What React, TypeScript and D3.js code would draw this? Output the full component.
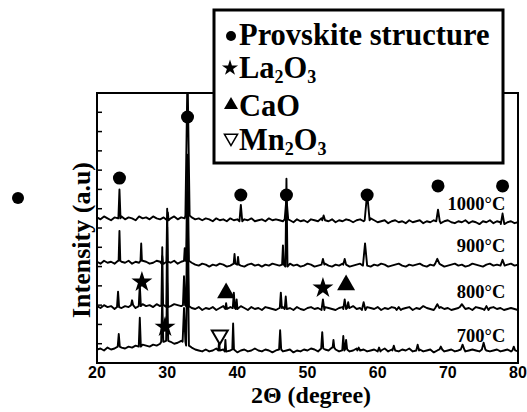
import React from "react";
import * as d3 from "d3";

const W = 527;
const H = 412;
const FRAME = { left: 97, right: 518, top: 93, bottom: 363 };

// axis
const xDomain: [number, number] = [20, 80];
const yDomain: [number, number] = [0, 280];
const xTickValues = [20, 30, 40, 50, 60, 70, 80];

// series
const temps = ["1000°C", "900°C", "800°C", "700°C"];
const offsets = [148, 104, 57, 14];
const labelLevels = [158.7, 115.1, 67.4, 21.8];
const labelPos = 78.2;

// baseline noise, sampled every 0.5° from 20° to 80°
const noise1000 = [
  3, 1, 4, 2, 0, 3, 2, 4, 1, 3, 2, 0, 4, 2, 3, 1, 4, 2, 1, 3, 0, 2, 4, 1, 3, 2,
  5, 3, 1, 2, 0, 2, 1, -1, 2, 0, 1, -1, 2, 0, 1, -1, 1, 0, 2, -1, 0, 1, -1, 2, 0, 1,
  0, -1, 1, 0, -2, 1, -1, 0, -2, 1, 0, -1, 2, 0, -1, 1, -2, 0, -1, 1, 0, -2, 0, 1, -1, 0,
  2, 0, -2, -1, 0, -3, -1, 0, -2, -1, -3, 0, -2, -1, 0, -3, -1, -2, 0, -1, -3, -1, 0, -2, -3, -1,
  -2, 0, -3, -1, -2, -4, -1, -2, 0, -3, -1, -2, -4, -2, -1, -3, -2,
];
const noise900 = [
  1, -1, 2, 0, 1, -1, 2, 1, 0, 2, -1, 1, 0, 2, 1, -1, 0, 2, 1, -1, 1, 0, 2, -1, 1, 2,
  2, 0, -2, -3, -1, -2, -4, -2, -3, -1, -2, -4, -3, -1, -2, -3, -4, -2, -1, -3, -2, -4, -2, -3, -1, -2,
  -3, -2, -4, -1, -3, -2, -4, -3, -1, -2, -4, -3, -2, -1, -3, -4, -2, -3, -1, -2, -4, -3, -2, -1, -3, -2,
  -4, -2, -3, -1, -2, -4, -3, -2, -1, -3, -4, -2, -3, -2, -1, -3, -4, -2, -3, -1, -2, -4, -3, -2, -1, -3,
  -2, -4, -3, -1, -2, -3, -4, -2, -1, -3, -2, -4, -3, -2, -1, -3, -2,
];
const noise800 = [
  2, 0, 3, 1, 2, -1, 1, 0, 2, 1, 3, 0, 2, 4, 2, 3, 1, 4, 2, 3, 1, 2, 4, 3, 2, 3,
  2, 0, -1, 1, -2, 0, -1, 1, -2, 0, 2, -1, 1, 0, -1, 2, 0, -2, 1, -1, 0, -2, 1, 0, -1, -2,
  0, 1, -1, 0, -2, 1, -1, -2, 0, 1, -1, 0, -2, 1, 0, -1, -2, 0, 1, -1, 0, 2, -1, 0, -2, 1,
  0, -1, 1, -2, 0, -1, 1, 0, -2, -1, 0, 1, -2, 0, -1, 2, 0, -1, -2, 0, 1, -1, 0, -2, -1, 0,
  1, -1, 0, -2, 1, 0, -1, -2, 0, 1, -1, 0, -2, -1, 0, -1, -2,
];
const noise700 = [
  0, 1, -1, 2, 0, 1, 3, 2, 1, 3, 2, 4, 3, 5, 4, 3, 5, 4, 6, 8, 9, 8, 6, 7, 9, 8,
  4, 2, 0, -1, -2, 0, -2, -1, 1, -1, 0, -2, -1, 0, -3, -1, 0, -2, -1, 1, -1, -2, 0, -1, -3, -1,
  0, -2, -1, 0, -3, -1, -2, 0, -1, 1, 0, -2, 1, 0, -1, 2, 0, -2, -1, 0, -2, -1, 1, -1, 0, -2,
  -1, 0, -2, -1, 1, -2, 0, -1, -2, 0, -1, 1, -2, -1, 0, -2, -1, 0, -3, -1, 0, -2, -1, 0, -2, -1,
  0, -2, -1, 0, -1, -2, 0, -1, -2, -1, 0, -2, -1, 0, -2, -1, -2,
];

// peaks: [2θ, height, half width]
const peaks1000: [number, number, number][] = [
  [23.2, 30, 0.15], [30.1, 8, 0.1], [32.9, 150, 0.3], [40.5, 17, 0.2], [47.0, 22, 0.25],
  [52.3, 5, 0.2], [58.5, 28, 0.35], [68.6, 12, 0.25], [77.8, 11, 0.25],
];
const peaks900: [number, number, number][] = [
  [23.2, 31, 0.12], [26.3, 18, 0.1], [29.3, 8, 0.1], [30.0, 55, 0.1], [32.5, 13, 0.1],
  [32.9, 110, 0.2], [39.6, 10, 0.12], [40.1, 8, 0.12], [46.5, 20, 0.12], [47.0, 91, 0.15],
  [52.2, 6, 0.2], [55.3, 6, 0.2], [58.2, 23, 0.3], [68.5, 5, 0.3], [77.8, 6, 0.3],
];
const peaks800: [number, number, number][] = [
  [23.0, 16, 0.15], [25.0, 5, 0.15], [26.1, 22, 0.15], [29.3, 60, 0.12], [30.0, 83, 0.12],
  [32.4, 30, 0.15], [32.9, 118, 0.2], [38.4, 6, 0.12], [39.5, 16, 0.15], [39.9, 10, 0.12],
  [46.2, 16, 0.15], [46.9, 13, 0.15], [52.2, 11, 0.2], [55.3, 10, 0.2], [55.8, 6, 0.15],
  [58.0, 8, 0.25], [63.0, 3, 0.3], [68.5, 4, 0.3], [72.0, 3, 0.3], [75.5, 4, 0.3],
];
const peaks700: [number, number, number][] = [
  [23.1, 13, 0.15], [26.1, 30, 0.15], [29.3, 45, 0.15], [30.0, 60, 0.15], [32.4, 35, 0.2],
  [32.9, 120, 0.2], [37.4, 10, 0.1], [38.3, 12, 0.1], [39.4, 27, 0.12], [46.1, 20, 0.15],
  [52.1, 17, 0.15], [53.7, 8, 0.12], [55.1, 15, 0.15], [55.5, 10, 0.15], [57.3, 3, 0.2],
  [60.2, 4, 0.2], [62.3, 5, 0.2], [65.7, 6, 0.2], [69.0, 3, 0.2], [72.1, 5, 0.25],
  [75.1, 7, 0.25], [79.4, 4, 0.2],
];

const noises = [noise1000, noise900, noise800, noise700];
const peakSets = [peaks1000, peaks900, peaks800, peaks700];

// phase markers: [2θ, level]
const perovskiteMarks: [number, number][] = [
  [23.2, 191.8], [32.9, 255.1], [40.5, 174.2], [47.0, 174.2], [58.5, 174.2], [68.6, 183.6], [77.8, 183.6],
];
const la2o3Marks: [number, number][] = [[26.4, 84], [52.2, 77.8], [29.7, 37.3]];
const caoMarks: [number, number][] = [[38.4, 72.6], [55.5, 80.9]];
const mn2o3Marks: [number, number][] = [[37.5, 29.0]];

function buildTrace(noise: number[], peaks: [number, number, number][]) {
  const pts: [number, number][] = [];
  noise.forEach((v, i) => {
    const x = 20 + i * 0.5;
    if (!peaks.some(([p, , w]) => Math.abs(x - p) < w)) pts.push([x, v]);
  });
  peaks.forEach(([p, h, w]) => {
    const b = noise[Math.round((p - 20) * 2)];
    pts.push([p - w, b], [p, b + h], [p + w, b]);
  });
  pts.sort((a, b) => a[0] - b[0]);
  return pts;
}

const serifStyle = { fontFamily: "Liberation Serif, Times New Roman, serif", fontWeight: 700 } as const;
const sansStyle = { fontFamily: "Liberation Sans, Arial, sans-serif", fontWeight: 700 } as const;

export default function App() {
  const x = d3.scaleLinear().domain(xDomain).range([FRAME.left, FRAME.right]);
  const y = d3.scaleLinear().domain(yDomain).range([FRAME.bottom, FRAME.top]);
  const yTicks = y.ticks(14);

  const star = d3.symbol().type(d3.symbolStar);
  const tri = d3.symbol().type(d3.symbolTriangle);

  return (
    <svg width={W} height={H} style={{ position: "absolute", left: 0, top: 0, background: "#fff" }}>
      <defs>
        <clipPath id="plotClip">
          <rect x={FRAME.left} y={FRAME.top} width={FRAME.right - FRAME.left} height={FRAME.bottom - FRAME.top} />
        </clipPath>
      </defs>
      <rect width={W} height={H} fill="#fff" />

      {/* traces */}
      <g clipPath="url(#plotClip)">
        {noises.map((n, k) => {
          const pts = buildTrace(n, peakSets[k]);
          const line = d3
            .line<[number, number]>()
            .x((d) => x(d[0]))
            .y((d) => y(offsets[k] + d[1]));
          return <path key={k} d={line(pts) || ""} fill="none" stroke="#000" strokeWidth={1.9} strokeLinejoin="round" />;
        })}
      </g>

      {/* frame */}
      <rect
        x={FRAME.left}
        y={FRAME.top}
        width={FRAME.right - FRAME.left}
        height={FRAME.bottom - FRAME.top}
        fill="none"
        stroke="#000"
        strokeWidth={2}
      />
      {yTicks.map((t) => (
        <line key={t} x1={FRAME.left} x2={FRAME.left + 5} y1={y(t)} y2={y(t)} stroke="#000" strokeWidth={1.5} />
      ))}
      {xTickValues.map((t) => (
        <text key={t} x={x(t)} y={378} textAnchor="middle" style={{ ...sansStyle, fontSize: 16 }}>
          {t}
        </text>
      ))}

      {/* temperature labels */}
      {temps.map((t, k) => (
        <text key={t} x={x(labelPos)} y={y(labelLevels[k])} textAnchor="end" style={{ ...serifStyle, fontSize: 18.5 }}>
          {t}
        </text>
      ))}

      {/* markers */}
      {perovskiteMarks.map(([p, l], i) => (
        <circle key={"c" + i} cx={x(p)} cy={y(l)} r={6.5} fill="#000" />
      ))}
      {la2o3Marks.map(([p, l], i) => (
        <path key={"s" + i} d={star.size(136)() || ""} transform={`translate(${x(p)},${y(l)})`} fill="#000" />
      ))}
      {caoMarks.map(([p, l], i) => (
        <path key={"t" + i} d={tri.size(140)() || ""} transform={`translate(${x(p)},${y(l)})`} fill="#000" />
      ))}
      {mn2o3Marks.map(([p, l], i) => (
        <path
          key={"m" + i}
          d={tri.size(110)() || ""}
          transform={`translate(${x(p)},${y(l)}) rotate(180)`}
          fill="#fff"
          stroke="#000"
          strokeWidth={2}
        />
      ))}

      {/* axis titles */}
      <text x={311} y={403} textAnchor="middle" style={{ ...serifStyle, fontSize: 24 }}>
        2Θ (degree)
      </text>
      <text transform="translate(90,240) rotate(-90)" textAnchor="middle" style={{ ...serifStyle, fontSize: 26 }}>
        Intensity (a.u)
      </text>

      {/* stray dot */}
      <circle cx={18} cy={198} r={6} fill="#000" />

      {/* legend */}
      <rect x={214} y={10} width={289} height={153} fill="#fff" stroke="#000" strokeWidth={3} />
      <circle cx={231} cy={36} r={5} fill="#000" />
      <path d={star.size(81)() || ""} transform="translate(230,68)" fill="#000" />
      <path d={tri.size(85)() || ""} transform="translate(231,105)" fill="#000" />
      <path d={tri.size(75)() || ""} transform="translate(231,138) rotate(180)" fill="#fff" stroke="#000" strokeWidth={1.5} />
      <g style={{ ...serifStyle, fontSize: 30.5 }}>
        <text x={239} y={45}>Provskite structure</text>
        <text x={239} y={78}>
          La<tspan fontSize={18} dy={5}>2</tspan>
          <tspan dy={-5}>O</tspan>
          <tspan fontSize={18} dy={5}>3</tspan>
        </text>
        <text x={239} y={116}>CaO</text>
        <text x={239} y={150}>
          Mn<tspan fontSize={18} dy={5}>2</tspan>
          <tspan dy={-5}>O</tspan>
          <tspan fontSize={18} dy={5}>3</tspan>
        </text>
      </g>
    </svg>
  );
}
